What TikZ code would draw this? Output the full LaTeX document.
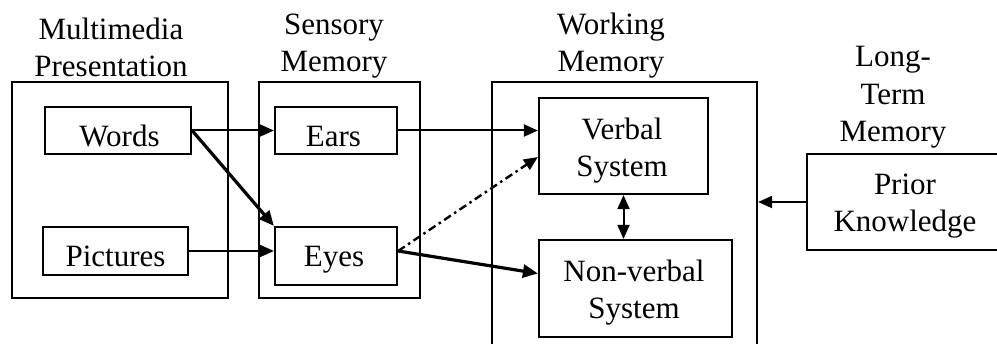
\documentclass[tikz,border=0pt]{standalone}
\usepackage{fontspec}
\setmainfont{Liberation Serif}
\usetikzlibrary{arrows.meta,calc}
\begin{document}
\begin{tikzpicture}[x=1pt,y=-1pt,
  box/.style={draw,line width=2.2pt,inner sep=0pt,rectangle},
  txt/.style={anchor=base,inner sep=0pt,align=center,font=\fontsize{31}{37.5}\selectfont},
  arr/.style={line width=2pt,-{Triangle[length=14pt,width=12pt]}},
  thickarr/.style={line width=3.2pt,-{Triangle[length=15pt,width=13pt]}},
  dualarr/.style={line width=2pt,{Triangle[length=14pt,width=12pt]}-{Triangle[length=14pt,width=12pt]}},
  dashdot/.style={line width=2.4pt,dash pattern=on 8pt off 4pt on 2.5pt off 4pt}]
\useasboundingbox (0,0) rectangle (997,344);
\fill[white] (0,0) rectangle (997,344);
% outer boxes
\node[box,minimum width=216pt,minimum height=216pt] (mp) at (120,190) {};
\node[box,minimum width=161pt,minimum height=216pt] (sm) at (339.5,190) {};
\node[box,minimum width=265pt,minimum height=278pt] (wm) at (624.5,221) {};
% inner boxes
\node[box,minimum width=146pt,minimum height=47pt] (words) at (118,130.5) {};
\node[box,minimum width=145pt,minimum height=48pt] (pictures) at (115.5,251) {};
\node[box,minimum width=122pt,minimum height=47pt] (ears) at (336,130.5) {};
\node[box,minimum width=122pt,minimum height=58pt] (eyes) at (336,256) {};
\node[box,minimum width=169pt,minimum height=96pt] (verbal) at (623.5,146) {};
\node[box,minimum width=193pt,minimum height=97pt] (nonverbal) at (635.5,288.5) {};
\node[box,minimum width=203pt,minimum height=96pt] (prior) at (908.5,202) {};
% titles (anchor = baseline of last line)
\node[txt] (tmp) at (111,77) {Multimedia\\Presentation};
\node[txt] (tsm) at (334,72) {Sensory\\Memory};
\node[txt] (twm) at (611,72) {Working\\Memory};
\node[txt] (tlt) at (893,142) {Long-\\Term\\Memory};
% box texts
\node[txt] (lwords) at (119.5,147) {Words};
\node[txt] (lpictures) at (115.5,267) {Pictures};
\node[txt] (lears) at (333.5,147) {Ears};
\node[txt] (leyes) at (334,267) {Eyes};
\node[txt] (lverbal) at (622,177) {Verbal\\System};
\node[txt] (lnonverbal) at (634,319) {Non-verbal\\System};
\node[txt] (lprior) at (905,232) {Prior\\Knowledge};
% connectors
\coordinate (eyesout) at (pictures.east -| eyes.east);
\coordinate (vin) at ($(verbal.west)+(0,11)$);
\coordinate (nin) at ($(nonverbal.west)+(0,-15)$);
\draw[arr] (words.east) -- (words.east -| ears.west);
\draw[thickarr] (words.east) -- (eyes.north west);
\draw[arr] (pictures.east) -- (pictures.east -| eyes.west);
\draw[arr] (ears.east) -- (ears.east -| verbal.west);
\draw[arr,dashdot] (eyesout) -- (vin);
\draw[thickarr] (eyesout) -- (nin);
\draw[dualarr] (verbal.south) -- (verbal.south |- nonverbal.north);
\draw[arr] (prior.west) -- (prior.west -| wm.east);
\end{tikzpicture}
\end{document}
